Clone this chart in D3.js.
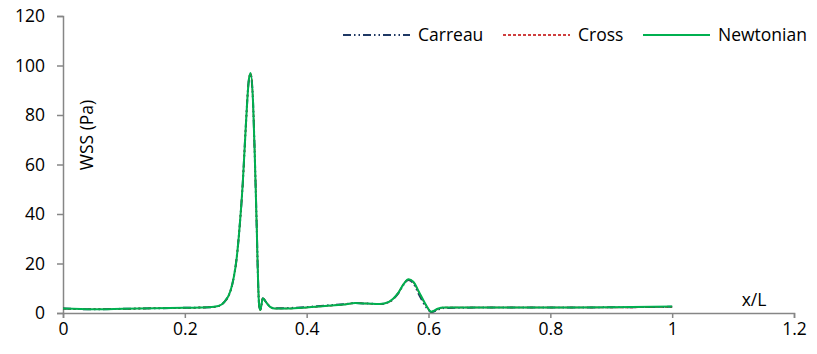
<!DOCTYPE html>
<html>
<head>
<meta charset="utf-8">
<script src="https://cdn.jsdelivr.net/npm/d3@7"></script>
<style>
  body { margin: 0; background: #fff; }
  #chart { width: 817px; height: 354px; }
  text { font-family: "Open Sans", Lato, sans-serif; fill: #000; }
</style>
</head>
<body>
<div id="chart"></div>
<script>
// position along the vessel (x/L)
const xPos = [0, 0.05, 0.1, 0.15, 0.2, 0.24, 0.255, 0.265, 0.275, 0.28, 0.285, 0.29, 0.295, 0.3, 0.305, 0.308,
  0.312, 0.315, 0.318, 0.32, 0.322, 0.324, 0.328, 0.333, 0.34, 0.348, 0.37, 0.4, 0.43, 0.46, 0.48, 0.5, 0.52,
  0.535, 0.55, 0.56, 0.567, 0.575, 0.585, 0.595, 0.605, 0.615, 0.625, 0.7, 0.8, 0.9, 1.0];

// wall shear stress (Pa)
const carreau = [1.8, 1.5, 1.7, 1.9, 2.1, 2.3, 2.8, 4.5, 9, 14, 22, 35, 52, 75, 94, 96.5,
  85, 62, 35, 15, 3, 1.2, 6, 4.5, 2.5, 1.9, 2.0, 2.4, 3.0, 3.5, 4.0, 3.8, 3.6,
  4.4, 7.8, 11.8, 13.3, 12.0, 7.2, 2.8, 0.4, 1.3, 2.0, 2.2, 2.2, 2.3, 2.5];
const cross = [1.8, 1.5, 1.7, 1.9, 2.1, 2.3, 2.8, 4.5, 9, 14, 22, 35, 52, 75, 94, 96.8,
  85, 62, 35, 15, 3, 1.2, 6, 4.5, 2.5, 1.8, 1.8, 2.2, 2.8, 3.4, 4.0, 3.8, 3.6,
  4.5, 8, 12, 13.5, 12.5, 8, 3.5, 0.5, 1.6, 2.2, 2.2, 2.2, 2.2, 2.5];
const newtonian = [1.8, 1.5, 1.7, 1.9, 2.1, 2.3, 2.8, 4.5, 9, 14, 22, 35, 52, 75, 94, 97,
  85, 62, 35, 15, 3, 1.2, 6, 4.5, 2.5, 1.8, 1.8, 2.2, 2.8, 3.4, 4.0, 3.8, 3.6,
  4.5, 8, 12, 13.6, 12.6, 8.2, 3.6, 0.5, 1.7, 2.2, 2.2, 2.2, 2.3, 2.6];

const seriesNames = ["Carreau", "Cross", "Newtonian"];
const xTicks = [0, 0.2, 0.4, 0.6, 0.8, 1, 1.2];
const yTicks = [0, 20, 40, 60, 80, 100, 120];

const styles = {
  Carreau: { color: "#1f3864", dash: "8,3,1.5,3,1.5,3", width: 2 },
  Cross: { color: "#c00000", dash: "3,2", width: 1.5 },
  Newtonian: { color: "#00b050", dash: null, width: 2 }
};

const W = 817, H = 354;
const margin = { top: 16, right: 23, bottom: 41, left: 63 };
const fontSize = "17.5px";

const svg = d3.select("#chart").append("svg").attr("width", W).attr("height", H);

const x = d3.scaleLinear().domain([0, 1.2]).range([margin.left, W - margin.right]);
const y = d3.scaleLinear().domain([0, 120]).range([H - margin.bottom, margin.top]);

const axisColor = "#868686";

// x axis
const gx = svg.append("g")
  .attr("transform", "translate(0," + y(0) + ")")
  .call(d3.axisBottom(x).tickValues(xTicks).tickSize(5).tickPadding(5).tickFormat(d3.format("")));
gx.selectAll("text").style("font-size", fontSize);

// y axis
const gy = svg.append("g")
  .attr("transform", "translate(" + x(0) + ",0)")
  .call(d3.axisLeft(y).tickValues(yTicks).tickSize(6).tickPadding(12));
gy.selectAll("text").style("font-size", fontSize);

[gx, gy].forEach(g => {
  g.select(".domain").attr("stroke", axisColor).attr("stroke-width", 1.5);
  g.selectAll(".tick line").attr("stroke", axisColor).attr("stroke-width", 1.5);
});

// series
const data = { Carreau: carreau, Cross: cross, Newtonian: newtonian };
const line = d3.line()
  .x((d, i) => x(xPos[i]))
  .y(d => y(d))
  .curve(d3.curveMonotoneX);

seriesNames.forEach(name => {
  const s = styles[name];
  svg.append("path")
    .datum(data[name])
    .attr("fill", "none")
    .attr("stroke", s.color)
    .attr("stroke-width", s.width)
    .attr("stroke-dasharray", s.dash)
    .attr("d", line);
});

// axis titles
svg.append("text")
  .attr("transform", "translate(" + 87 + "," + 135 + ") rotate(-90)")
  .attr("text-anchor", "middle")
  .attr("dy", "0.35em")
  .style("font-size", fontSize)
  .text("WSS (Pa)");

svg.append("text")
  .attr("x", 754).attr("y", 300)
  .attr("dy", "0.35em")
  .attr("text-anchor", "middle")
  .style("font-size", fontSize)
  .text("x/L");

// legend
const legendX = [343, 503, 643];
const legend = svg.append("g");
seriesNames.forEach((name, i) => {
  const s = styles[name];
  legend.append("line")
    .attr("x1", legendX[i]).attr("x2", legendX[i] + 67)
    .attr("y1", 35).attr("y2", 35)
    .attr("stroke", s.color)
    .attr("stroke-width", s.width)
    .attr("stroke-dasharray", s.dash);
  legend.append("text")
    .attr("x", legendX[i] + 75).attr("y", 35)
    .attr("dy", "0.35em")
    .style("font-size", fontSize)
    .text(name);
});
</script>
</body>
</html>
